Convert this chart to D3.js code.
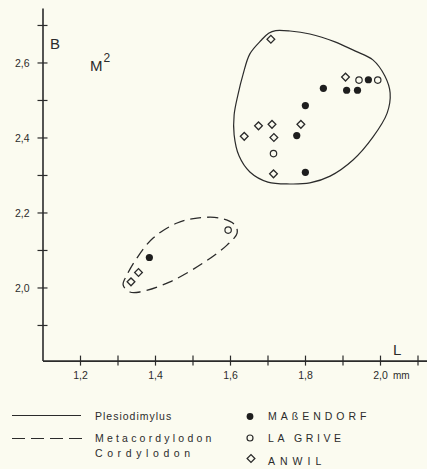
<!DOCTYPE html>
<html>
<head>
<meta charset="utf-8">
<script src="https://cdn.jsdelivr.net/npm/d3@7"></script>
<style>
  html, body { margin: 0; padding: 0; background: #fbfbf0; }
  svg { display: block; font-family: "Liberation Sans", Arial, sans-serif; }
</style>
</head>
<body>
<div id="chart"></div>
<script>
// measurements [L, B] in mm
const massendorf = [[1.849, 2.531], [1.911, 2.526], [1.940, 2.526], [1.969, 2.554],
  [1.801, 2.485], [1.778, 2.405], [1.801, 2.307], [1.385, 2.080]];
const laGrive = [[1.944, 2.553], [1.994, 2.553], [1.716, 2.357], [1.595, 2.153]];
const anwil = [[1.709, 2.662], [1.908, 2.561], [1.676, 2.431], [1.712, 2.435],
  [1.789, 2.435], [1.638, 2.403], [1.717, 2.400], [1.716, 2.303],
  [1.336, 2.015], [1.356, 2.040]];

// outlines of the groups
const plesiodimylus = [[1.722, 2.685], [1.760, 2.684], [1.813, 2.676], [1.880, 2.655],
  [1.933, 2.631], [1.981, 2.607], [2.013, 2.564], [2.027, 2.519], [2.019, 2.465],
  [1.981, 2.401], [1.928, 2.340], [1.867, 2.297], [1.813, 2.279], [1.760, 2.276],
  [1.701, 2.281], [1.653, 2.308], [1.624, 2.351], [1.611, 2.407], [1.611, 2.460],
  [1.621, 2.513], [1.635, 2.569], [1.653, 2.623], [1.684, 2.660], [1.703, 2.678]];
const metacordylodon = [[1.315, 2.007], [1.333, 1.988], [1.360, 1.988], [1.440, 2.015],
  [1.528, 2.065], [1.592, 2.113], [1.619, 2.145], [1.613, 2.167], [1.573, 2.185],
  [1.512, 2.185], [1.459, 2.172], [1.395, 2.132], [1.352, 2.079], [1.325, 2.033]];

const xTicks = [1.2, 1.3, 1.4, 1.5, 1.6, 1.7, 1.8, 1.9, 2.0, 2.1];
const yTicks = [1.9, 2.0, 2.1, 2.2, 2.3, 2.4, 2.5, 2.6, 2.7];
const xLabels = [1.2, 1.4, 1.6, 1.8, 2.0];
const yLabels = [2.0, 2.2, 2.4, 2.6];

const width = 427, height = 469;
const ink = "#2b2b2b";

const svg = d3.select("#chart").append("svg")
  .attr("width", width)
  .attr("height", height);

svg.append("rect").attr("width", width).attr("height", height).attr("fill", "#fbfbf0");

const x = d3.scaleLinear().domain([1.1, 2.2]).range([42.5, 455]);
const y = d3.scaleLinear().domain([1.805, 2.745]).range([360.6, 8.1]);

const fmt = v => d3.format(".1f")(v).replace(".", ",");

// y axis
const yAxis = svg.append("g").attr("transform", `translate(${x(1.1)},0)`)
  .call(d3.axisLeft(y).tickValues(yTicks).tickSize(0).tickFormat(""));
yAxis.select(".domain").attr("stroke", ink).attr("stroke-width", 1.6);
yAxis.selectAll(".tick line").remove();
yAxis.selectAll(".tick").append("line")
  .attr("x1", -5).attr("x2", 5)
  .attr("stroke", ink).attr("stroke-width", 1.2);
yAxis.selectAll(".tick").filter(d => yLabels.some(v => Math.abs(v - d) < 1e-9))
  .append("text")
  .attr("x", -13).attr("dy", "0.35em")
  .attr("text-anchor", "end")
  .attr("fill", ink).attr("font-size", 10.5)
  .text(d => fmt(d));

// x axis
const xAxis = svg.append("g").attr("transform", `translate(0,${y(1.805)})`)
  .call(d3.axisBottom(x).tickValues(xTicks).tickSize(0).tickFormat(""));
xAxis.select(".domain").attr("stroke", ink).attr("stroke-width", 1.6);
xAxis.selectAll(".tick line").remove();
xAxis.selectAll(".tick").append("line")
  .attr("y1", -5).attr("y2", 5)
  .attr("stroke", ink).attr("stroke-width", 1.2);
xAxis.selectAll(".tick").filter(d => xLabels.some(v => Math.abs(v - d) < 1e-9))
  .append("text")
  .attr("y", 18)
  .attr("text-anchor", "middle")
  .attr("fill", ink).attr("font-size", 10.5)
  .text(d => fmt(d));
svg.append("text")
  .attr("x", x(2.0) + 13).attr("y", y(1.805) + 18)
  .attr("fill", ink).attr("font-size", 10)
  .text("mm");

// axis names
svg.append("text").attr("x", 50).attr("y", 49).attr("fill", ink)
  .attr("font-size", 15).text("B");
svg.append("text").attr("x", 393).attr("y", 355).attr("fill", ink)
  .attr("font-size", 15).text("L");
const m2 = svg.append("text").attr("x", 90).attr("y", 71).attr("fill", ink)
  .attr("font-size", 15);
m2.append("tspan").text("M");
m2.append("tspan").attr("dy", -9).attr("dx", 1).attr("font-size", 12).text("2");

// outlines
const outline = d3.line()
  .x(d => x(d[0]))
  .y(d => y(d[1]))
  .curve(d3.curveCatmullRomClosed.alpha(0.5));

svg.append("path")
  .attr("d", outline(plesiodimylus))
  .attr("fill", "none").attr("stroke", ink).attr("stroke-width", 1.2);
svg.append("path")
  .attr("d", outline(metacordylodon))
  .attr("fill", "none").attr("stroke", ink).attr("stroke-width", 1.3)
  .attr("stroke-dasharray", "11,6");

// markers
const diamond = d3.symbol().type(d3.symbolSquare).size(30);
svg.append("g").selectAll("path")
  .data(anwil).join("path")
  .attr("d", diamond)
  .attr("transform", d => `translate(${x(d[0])},${y(d[1])}) rotate(45)`)
  .attr("fill", "#fbfbf0").attr("stroke", ink).attr("stroke-width", 1.3);
svg.append("g").selectAll("circle")
  .data(laGrive).join("circle")
  .attr("cx", d => x(d[0])).attr("cy", d => y(d[1]))
  .attr("r", 3.2)
  .attr("fill", "#fbfbf0").attr("stroke", ink).attr("stroke-width", 1.2);
svg.append("g").selectAll("circle")
  .data(massendorf).join("circle")
  .attr("cx", d => x(d[0])).attr("cy", d => y(d[1]))
  .attr("r", 3.6)
  .attr("fill", "#1e1e1e");

// legend
const lg = svg.append("g").attr("fill", ink).attr("font-size", 10.5);
lg.append("line").attr("x1", 12).attr("x2", 81).attr("y1", 415.5).attr("y2", 415.5)
  .attr("stroke", ink).attr("stroke-width", 1.2);
lg.append("line").attr("x1", 12).attr("x2", 83).attr("y1", 438.5).attr("y2", 438.5)
  .attr("stroke", ink).attr("stroke-width", 1.2).attr("stroke-dasharray", "13,6");
lg.append("text").attr("x", 95).attr("y", 420).attr("letter-spacing", 1.0).text("Plesiodimylus");
lg.append("text").attr("x", 95).attr("y", 442).attr("letter-spacing", 3.2).text("Metacordylodon");
lg.append("text").attr("x", 95).attr("y", 456.5).attr("letter-spacing", 4.6).text("Cordylodon");

lg.append("circle").attr("cx", 250).attr("cy", 416.5).attr("r", 3.4).attr("fill", "#1e1e1e");
lg.append("circle").attr("cx", 250).attr("cy", 438).attr("r", 3).attr("fill", "none")
  .attr("stroke", ink).attr("stroke-width", 1.2);
lg.append("path").attr("d", diamond)
  .attr("transform", "translate(251,458.5) rotate(45)")
  .attr("fill", "none").attr("stroke", ink).attr("stroke-width", 1.3);
lg.append("text").attr("x", 268).attr("y", 420).attr("letter-spacing", 4).text("MAßENDORF");
lg.append("text").attr("x", 268).attr("y", 442).attr("letter-spacing", 3.6).text("LA GRIVE");
lg.append("text").attr("x", 268).attr("y", 465).attr("letter-spacing", 5).text("ANWIL");
</script>
</body>
</html>
